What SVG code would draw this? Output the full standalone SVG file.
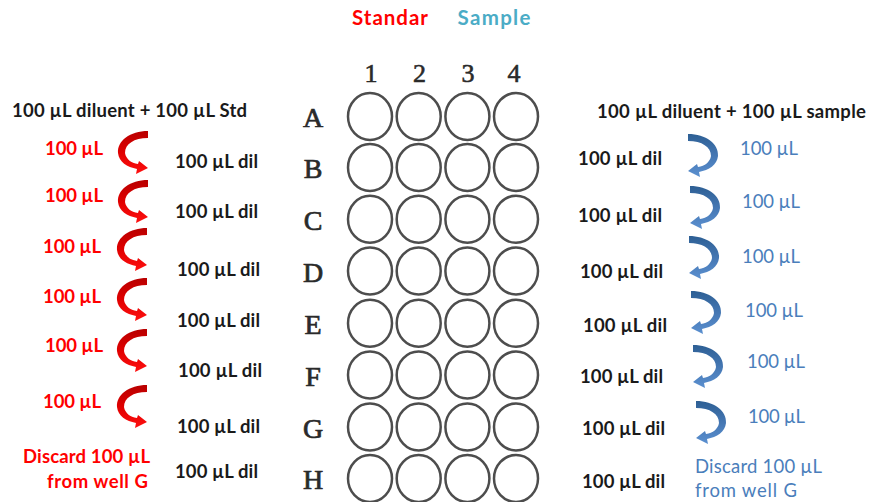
<svg xmlns="http://www.w3.org/2000/svg" xmlns:xlink="http://www.w3.org/1999/xlink" width="869" height="502" viewBox="0 0 869 502">
<style>
.t{font-family:Lato,"Open Sans","Liberation Sans",sans-serif;font-weight:bold;font-size:18.5px}
.h{font-size:20.5px}
.k{fill:#1a1a1a}
.r{fill:#ff0000}
.b{fill:#4a7ebb;font-weight:normal}
.row{font-family:"Liberation Serif","DejaVu Serif",serif;font-size:28px;fill:#2a2a2a;stroke:#2a2a2a;stroke-width:0.7;text-anchor:middle}
.col{font-family:"Liberation Serif","DejaVu Serif",serif;font-size:26px;fill:#2a2a2a;stroke:#2a2a2a;stroke-width:0.6;text-anchor:middle}
.well{fill:#ffffff;stroke:#4d4d4d;stroke-width:2.5}
</style>
<defs>
<linearGradient id="gr" x1="0" y1="0" x2="0" y2="1">
<stop offset="0" stop-color="#b80000"/>
<stop offset="0.5" stop-color="#e00000"/>
<stop offset="1" stop-color="#ff1010"/>
</linearGradient>
<linearGradient id="gb" x1="0" y1="0" x2="0" y2="1">
<stop offset="0" stop-color="#2d5f94"/>
<stop offset="0.5" stop-color="#4577b3"/>
<stop offset="1" stop-color="#5b90d0"/>
</linearGradient>
<path id="arr" d="M30,0 C12,0 -1,10 0,22 C1,31 9,36 19,38 L18,43 L30,37 L21,30 L20,33 C13,32 8,28 7,22 C7,13 16,7 30,7 Z"/>
<g id="rw">
<ellipse class="well" cx="370" cy="0" rx="22" ry="23.5"/>
<ellipse class="well" cx="418.7" cy="0" rx="22" ry="23.5"/>
<ellipse class="well" cx="467.4" cy="0" rx="22" ry="23.5"/>
<ellipse class="well" cx="516" cy="0" rx="22" ry="23.5"/>
</g>
</defs>
<rect width="869" height="502" fill="#ffffff"/>

<g id="titles">
<text class="t h r" x="390" y="25" text-anchor="middle" textLength="76">Standar</text>
<text class="t h" x="494" y="25" text-anchor="middle" fill="#4bacc6" textLength="73">Sample</text>
</g>

<g id="plate">
<g id="cols">
<text class="col" x="371" y="82">1</text>
<text class="col" x="419.5" y="82">2</text>
<text class="col" x="468" y="82">3</text>
<text class="col" x="514" y="82">4</text>
</g>
<g id="rowA"><text class="row" x="313" y="127">A</text><use xlink:href="#rw" href="#rw" transform="translate(0,116.5)"/></g>
<g id="rowB"><text class="row" x="313" y="178">B</text><use xlink:href="#rw" href="#rw" transform="translate(0,167.5)"/></g>
<g id="rowC"><text class="row" x="313" y="230">C</text><use xlink:href="#rw" href="#rw" transform="translate(0,219.3)"/></g>
<g id="rowD"><text class="row" x="313" y="281.5">D</text><use xlink:href="#rw" href="#rw" transform="translate(0,271)"/></g>
<g id="rowE"><text class="row" x="313" y="334">E</text><use xlink:href="#rw" href="#rw" transform="translate(0,323.3)"/></g>
<g id="rowF"><text class="row" x="313" y="385.5">F</text><use xlink:href="#rw" href="#rw" transform="translate(0,375)"/></g>
<g id="rowG"><text class="row" x="313" y="437.5">G</text><use xlink:href="#rw" href="#rw" transform="translate(0,427)"/></g>
<g id="rowH"><text class="row" x="313" y="489">H</text><use xlink:href="#rw" href="#rw" transform="translate(0,478.5)"/></g>
</g>

<g id="left-labels">
<text class="t k" x="12" y="117" textLength="235">100 µL diluent + 100 µL Std</text>
<text class="t r" x="45" y="155" textLength="58">100 µL</text>
<text class="t r" x="45" y="202" textLength="58">100 µL</text>
<text class="t r" x="43" y="253" textLength="58">100 µL</text>
<text class="t r" x="43" y="303" textLength="58">100 µL</text>
<text class="t r" x="45" y="352" textLength="58">100 µL</text>
<text class="t r" x="43" y="408" textLength="58">100 µL</text>
<text class="t k" x="175" y="168" textLength="83">100 µL dil</text>
<text class="t k" x="175" y="218" textLength="83">100 µL dil</text>
<text class="t k" x="177" y="276" textLength="83">100 µL dil</text>
<text class="t k" x="177" y="327" textLength="83">100 µL dil</text>
<text class="t k" x="178" y="377" textLength="84">100 µL dil</text>
<text class="t k" x="177" y="433" textLength="83">100 µL dil</text>
<text class="t k" x="175" y="478" textLength="83">100 µL dil</text>
<text class="t r" x="150" y="463" text-anchor="end" textLength="127">Discard 100 µL</text>
<text class="t r" x="148" y="488" text-anchor="end" textLength="101">from well G</text>
</g>

<g id="right-labels">
<text class="t k" x="597" y="118" textLength="269">100 µL diluent + 100 µL sample</text>
<text class="t k" x="578" y="165" textLength="84">100 µL dil</text>
<text class="t k" x="578" y="222" textLength="84">100 µL dil</text>
<text class="t k" x="580" y="278" textLength="83">100 µL dil</text>
<text class="t k" x="583" y="332" textLength="84">100 µL dil</text>
<text class="t k" x="580" y="383" textLength="83">100 µL dil</text>
<text class="t k" x="582" y="435" textLength="83">100 µL dil</text>
<text class="t k" x="582" y="488" textLength="83">100 µL dil</text>
<text class="t b" x="740" y="155" textLength="58">100 µL</text>
<text class="t b" x="742" y="208" textLength="58">100 µL</text>
<text class="t b" x="742" y="263" textLength="58">100 µL</text>
<text class="t b" x="745" y="317" textLength="58">100 µL</text>
<text class="t b" x="747" y="368" textLength="58">100 µL</text>
<text class="t b" x="748" y="423" textLength="57">100 µL</text>
<text class="t b" x="695" y="473" textLength="127">Discard 100 µL</text>
<text class="t b" x="695" y="497" textLength="102">from well G</text>
</g>

<g id="connectors">
<use xlink:href="#arr" href="#arr" fill="url(#gr)" transform="translate(118,131)"/>
<use xlink:href="#arr" href="#arr" fill="url(#gr)" transform="translate(118,180)"/>
<use xlink:href="#arr" href="#arr" fill="url(#gr)" transform="translate(117,228)"/>
<use xlink:href="#arr" href="#arr" fill="url(#gr)" transform="translate(117,278)"/>
<use xlink:href="#arr" href="#arr" fill="url(#gr)" transform="translate(117,329)"/>
<use xlink:href="#arr" href="#arr" fill="url(#gr)" transform="translate(117,385)"/>
<use xlink:href="#arr" href="#arr" fill="url(#gb)" transform="translate(718,134) scale(-1,1)"/>
<use xlink:href="#arr" href="#arr" fill="url(#gb)" transform="translate(720,186) scale(-1,1)"/>
<use xlink:href="#arr" href="#arr" fill="url(#gb)" transform="translate(719,236) scale(-1,1)"/>
<use xlink:href="#arr" href="#arr" fill="url(#gb)" transform="translate(721,291) scale(-1,1)"/>
<use xlink:href="#arr" href="#arr" fill="url(#gb)" transform="translate(723,345) scale(-1,1)"/>
<use xlink:href="#arr" href="#arr" fill="url(#gb)" transform="translate(726,401) scale(-1,1)"/>
</g>
</svg>
